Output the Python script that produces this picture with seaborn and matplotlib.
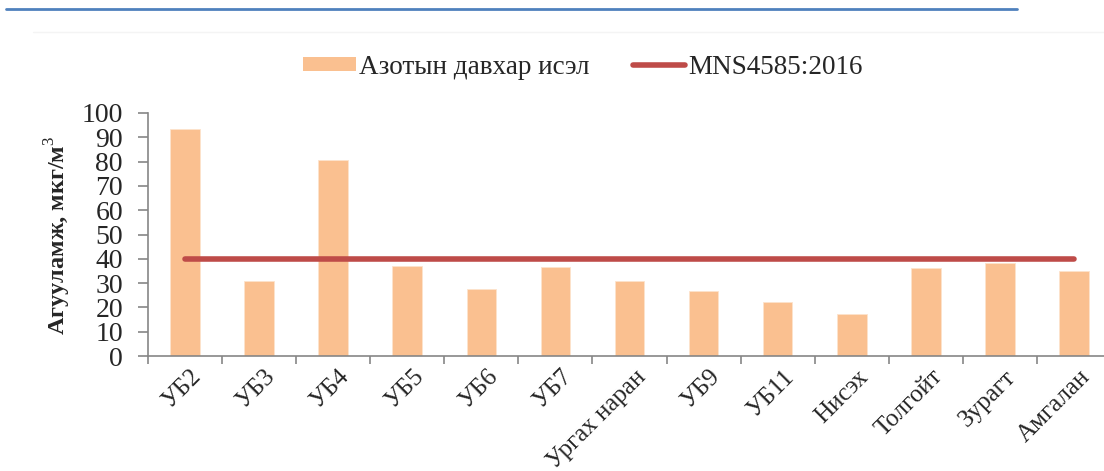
import matplotlib
matplotlib.use("Agg")
import matplotlib.pyplot as plt
import matplotlib.transforms as mtransforms
from matplotlib.patches import Patch
from matplotlib.lines import Line2D
import seaborn as sns
import pandas as pd

stations = ["УБ2", "УБ3", "УБ4", "УБ5", "УБ6", "УБ7", "Ургах наран",
            "УБ9", "УБ11", "Нисэх", "Толгойт", "Зурагт", "Амгалан"]
no2_values = [93.4, 30.9, 80.7, 37.2, 27.6, 36.6, 31.0,
              26.7, 22.3, 17.2, 36.1, 38.4, 34.9]
standard_values = [40, 40, 40, 40, 40, 40, 40, 40, 40, 40, 40, 40, 40]
yticks = [0, 10, 20, 30, 40, 50, 60, 70, 80, 90, 100]
bar_label = "Азотын давхар исэл"
line_label = "MNS4585:2016"
ylabel = "Агууламж, мкг/м$^3$"

BAR_COLOR = "#FAC090"
LINE_COLOR = "#BE4B48"
AXIS_COLOR = "#868686"

sns.set_style("white")
plt.rcParams["font.family"] = ["Liberation Serif", "DejaVu Serif"]
plt.rcParams["mathtext.fontset"] = "custom"
plt.rcParams["mathtext.rm"] = "Liberation Serif"
plt.rcParams["mathtext.bf"] = "Liberation Serif:bold"

df = pd.DataFrame({"station": stations, "no2": no2_values,
                   "standard": standard_values})

W, H = 1104, 471
fig = plt.figure(figsize=(W / 100, H / 100), dpi=100)
ax = fig.add_axes([148 / W, 1 - 356 / H, (1111 - 148) / W, (356 - 113) / H])

sns.barplot(data=df, x="station", y="no2", color=BAR_COLOR, saturation=1,
            width=0.4, ax=ax, edgecolor="#FDE3CC", linewidth=0.6)
sns.lineplot(x=list(range(len(stations))), y=df["standard"], color=LINE_COLOR,
             linewidth=4, ax=ax, sort=False)
for ln in ax.lines:
    ln.set_solid_capstyle("round")

ax.set_xlim(-0.5, len(stations) - 0.5)
ax.set_ylim(0, 100)
ax.set_yticks(yticks)
ax.set_yticklabels([str(v) for v in yticks], fontsize=20)
ax.set_xticks(range(len(stations)))
ax.set_xticklabels(stations, fontsize=18, rotation=45, ha="right",
                   va="top", rotation_mode="anchor")
ax.tick_params(axis="x", which="major", length=0, pad=7)
offset = mtransforms.ScaledTranslation(5 / 100, 0, fig.dpi_scale_trans)
for lbl in ax.get_xticklabels():
    lbl.set_transform(lbl.get_transform() + offset)
ax.set_xticks([i - 0.5 for i in range(len(stations) + 1)], minor=True)
ax.tick_params(axis="x", which="minor", length=6, color=AXIS_COLOR, width=1.2,
               direction="out", bottom=True)
ax.tick_params(axis="y", length=7, color=AXIS_COLOR, width=1.2,
               direction="out", left=True, pad=11)
ax.set_xlabel("")
ax.set_ylabel(ylabel, fontsize=17.5, fontweight="bold")
ax.yaxis.set_label_coords((73 - 148) / 963, (356 - 235) / 243)
for s in ["top", "right"]:
    ax.spines[s].set_visible(False)
for s in ["left", "bottom"]:
    ax.spines[s].set_color(AXIS_COLOR)
    ax.spines[s].set_linewidth(1.2)
ax.grid(False)

handles = [Patch(facecolor=BAR_COLOR, edgecolor="none"),
           Line2D([0], [0], color=LINE_COLOR, linewidth=4,
                  solid_capstyle="round")]
fig.legend(handles, [bar_label, line_label], loc="center",
           bbox_to_anchor=(583 / W, 1 - 67 / H), ncol=2, frameon=False,
           fontsize=19.5, handlelength=1.95, handleheight=0.45,
           handletextpad=0.12, columnspacing=1.6)

fig.add_artist(Line2D([6 / W, 1017 / W], [1 - 9 / H, 1 - 9 / H],
                      color="#4F81BD", linewidth=2,
                      transform=fig.transFigure))
fig.add_artist(Line2D([33 / W, 1], [1 - 32 / H, 1 - 32 / H],
                      color="#F4F4F4", linewidth=1,
                      transform=fig.transFigure))

fig.savefig("out.png", dpi=100)
